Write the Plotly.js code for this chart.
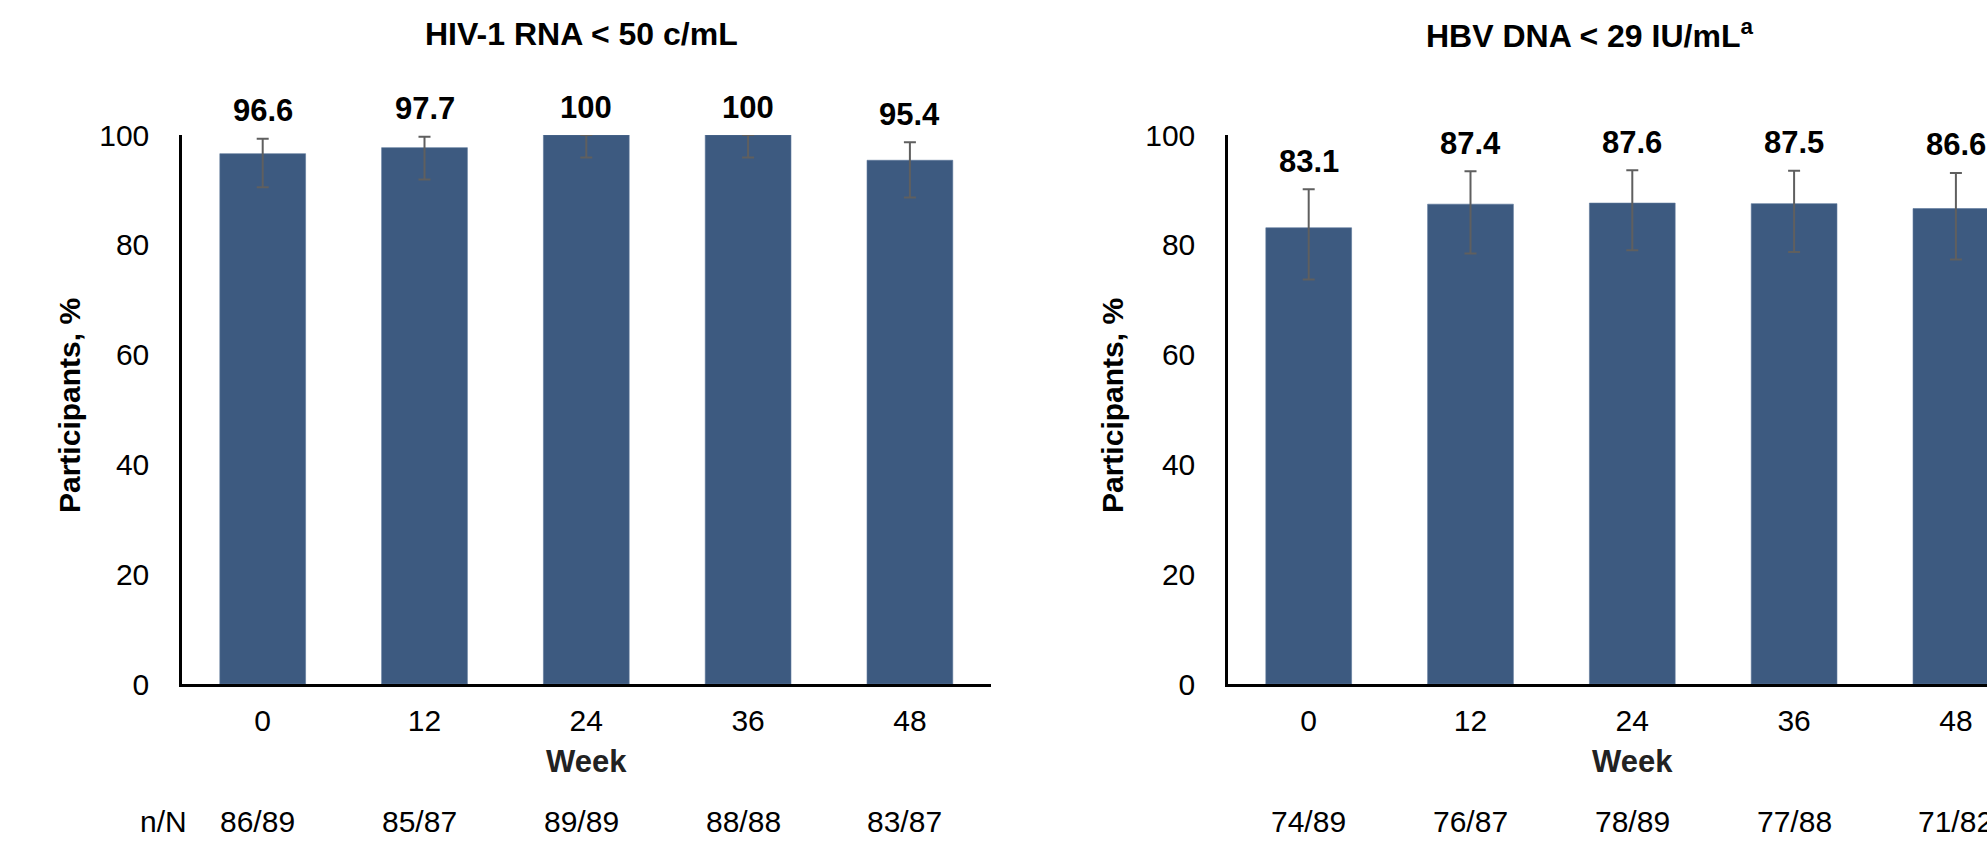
<!DOCTYPE html>
<html>
<head>
<meta charset="utf-8">
<script src="https://cdn.plot.ly/plotly-3.0.1.min.js"></script>
<style>
html,body{margin:0;padding:0;background:#fff;overflow:hidden;}
#chart{width:1987px;height:849px;}
</style>
</head>
<body>
<div id="chart"></div>
<script>
// ---- data ----
const weeks = ['0', '12', '24', '36', '48'];

const hivTitle = 'HIV-1 RNA &lt; 50 c/mL';
const hivPct = [96.6, 97.7, 100, 100, 95.4];
const hivLow = [90.5, 91.9, 95.9, 95.9, 88.6];
const hivHigh = [99.3, 99.7, 100, 100, 98.7];
const hivN = ['86/89', '85/87', '89/89', '88/88', '83/87'];

const hbvTitle = 'HBV DNA &lt; 29 IU/mL<sup>a</sup>';
const hbvPct = [83.1, 87.4, 87.6, 87.5, 86.6];
const hbvLow = [73.7, 78.4, 79.0, 78.7, 77.3];
const hbvHigh = [90.1, 93.4, 93.6, 93.5, 93.1];
const hbvN = ['74/89', '76/87', '78/89', '77/88', '71/82'];

const yTitle = 'Participants, %';
const xTitle = 'Week';
const nLabel = 'n/N';

// ---- styling ----
const W = 1987, H = 849;
const FONT = 'Liberation Sans, Arial, sans-serif';
const BAR = '#3d5a80';
const px = v => v / W;
const py = v => (H - v) / H;

const leftDom = [px(181.8), px(990.8)];
const rightDom = [px(1227.8), 1];
const yDom = [py(684), py(135)];
const unitPx = 161.8;
const rightMax = -0.5 + (W - 1227.8) / unitPx;

function barTrace(vals, lo, hi, xa, ya) {
  return {
    type: 'bar', x: weeks, y: vals, xaxis: xa, yaxis: ya,
    width: 0.53,
    marker: {color: BAR, line: {color: '#5b7599', width: 0.6}},
    error_y: {
      type: 'data', symmetric: false,
      array: hi.map((h, i) => +(h - vals[i]).toFixed(2)),
      arrayminus: lo.map((l, i) => +(vals[i] - l).toFixed(2)),
      color: '#5f5f5f', thickness: 2, width: 6
    },
    hoverinfo: 'x+y', showlegend: false
  };
}

const data = [
  barTrace(hivPct, hivLow, hivHigh, 'x', 'y'),
  barTrace(hbvPct, hbvLow, hbvHigh, 'x2', 'y2')
];

function xAxis(dom, range, anchor) {
  return {
    domain: dom, anchor: anchor, type: 'category', range: range,
    showline: true, linecolor: '#000', linewidth: 2.5,
    showgrid: false, zeroline: false, ticks: '',
    ticklabelstandoff: 8,
    tickfont: {family: FONT, size: 30, color: '#000'},
    fixedrange: true
  };
}
function yAxis(anchor) {
  return {
    domain: yDom, anchor: anchor, range: [0, 100], dtick: 20, tick0: 0,
    showline: true, linecolor: '#000', linewidth: 2.5,
    showgrid: false, zeroline: false, ticks: '',
    ticklabelstandoff: 24,
    tickfont: {family: FONT, size: 30, color: '#000'},
    fixedrange: true
  };
}

const ann = [];
function txt(o) { ann.push(Object.assign({showarrow: false}, o)); }

// panel titles
txt({text: hivTitle, xref: 'paper', yref: 'paper', x: px(581.7), y: py(34),
     xanchor: 'center', yanchor: 'middle', font: {family: FONT, size: 32, color: '#000', weight: 'bold'}});
txt({text: hbvTitle, xref: 'paper', yref: 'paper', x: px(1589), y: py(34),
     xanchor: 'center', yanchor: 'middle', font: {family: FONT, size: 32, color: '#000', weight: 'bold'}});

// y titles
[70, 1113].forEach(xp => {
  txt({text: yTitle, xref: 'paper', yref: 'paper', x: px(xp), y: py(406), textangle: -90,
       xanchor: 'center', yanchor: 'middle', font: {family: FONT, size: 30, color: '#000', weight: 'bold'}});
});

// x titles
txt({text: xTitle, xref: 'paper', yref: 'paper', x: px(586.3), y: py(761.7),
     xanchor: 'center', yanchor: 'middle', font: {family: FONT, size: 31, color: '#222', weight: 'bold'}});
txt({text: xTitle, xref: 'paper', yref: 'paper', x: px(1632.8), y: py(761.7),
     xanchor: 'center', yanchor: 'middle', font: {family: FONT, size: 31, color: '#222', weight: 'bold'}});

// value labels (x given as category index)
function valLabels(vals, hi, xr, yr) {
  vals.forEach((v, i) => {
    txt({text: String(v), xref: xr, yref: yr, x: i, y: hi[i], yshift: 28,
         xanchor: 'center', yanchor: 'middle', font: {family: FONT, size: 31, color: '#000', weight: 'bold'}});
  });
}
valLabels(hivPct, hivHigh, 'x', 'y');
valLabels(hbvPct, hbvHigh, 'x2', 'y2');

// n/N row
txt({text: nLabel, xref: 'paper', yref: 'paper', x: px(163.3), y: py(821.7),
     xanchor: 'center', yanchor: 'middle', font: {family: FONT, size: 30, color: '#000'}});
function nLabels(arr, xr, shift) {
  arr.forEach((t, i) => {
    txt({text: t, xref: xr, yref: 'paper', x: i, y: py(821.7), xshift: shift,
         xanchor: 'center', yanchor: 'middle', font: {family: FONT, size: 30, color: '#000'}});
  });
}
nLabels(hivN, 'x', -5);
nLabels(hbvN, 'x2', 0);

const layout = {
  width: W, height: H,
  margin: {l: 0, r: 0, t: 0, b: 0, pad: 0},
  paper_bgcolor: '#fff', plot_bgcolor: '#fff',
  showlegend: false,
  xaxis: xAxis(leftDom, [-0.5, 4.5], 'y'),
  yaxis: yAxis('x'),
  xaxis2: xAxis(rightDom, [-0.5, rightMax], 'y2'),
  yaxis2: yAxis('x2'),
  annotations: ann,
  font: {family: FONT}
};

Plotly.newPlot('chart', data, layout, {displayModeBar: false, staticPlot: true});
</script>
</body>
</html>
